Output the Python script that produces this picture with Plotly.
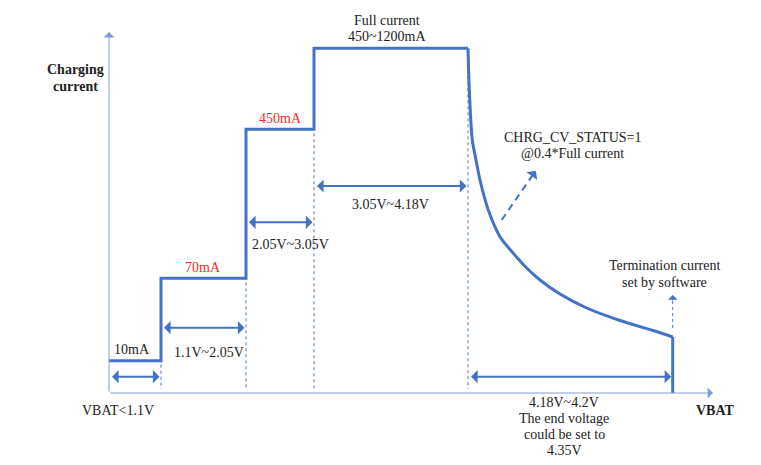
import plotly.graph_objects as go

# ---- schematic data (x: VBAT schematic units, y: current schematic units) ----
stage_bounds = [0, 52, 137, 205, 359]          # VBAT<1.1, 1.1, 2.05, 3.05, 4.18
stage_levels = [32.3, 114.7, 263.7, 344.7]     # 10mA, 70mA, 450mA, Full current
end_x = 563.7                                   # end voltage
cv_x = [359, 360.3, 363.3, 367, 371, 379.3, 391, 404.3, 417.7, 431, 451, 477.7, 511, 544, 563.7]
cv_y = [344.7, 303, 253, 233, 213, 183, 156.3, 139.7, 125, 113, 99, 85, 72.5, 62.5, 56]

level_labels = ["10mA", "70mA", "450mA"]
level_colors = ["#222222", "#FF2A2A", "#FF2A2A"]
range_labels = ["1.1V~2.05V", "2.05V~3.05V", "3.05V~4.18V"]

X_MAX, Y_MAX = 604, 361
BLUE = "#4472C4"
AXIS = "#7C9DD6"
FONT = "Liberation Serif"
TXT = "#222222"

fig = go.Figure()

# step part (constant-current stages)
sx, sy = [], []
for i, lv in enumerate(stage_levels):
    sx += [stage_bounds[i], stage_bounds[i + 1]]
    sy += [lv, lv]
fig.add_trace(go.Scatter(x=sx, y=sy, mode="lines", line=dict(color=BLUE, width=3),
                         hoverinfo="skip", showlegend=False))
# constant-voltage decay
fig.add_trace(go.Scatter(x=cv_x, y=cv_y, mode="lines",
                         line=dict(color=BLUE, width=3, shape="spline", smoothing=0.8),
                         hoverinfo="skip", showlegend=False))
# termination drop
fig.add_trace(go.Scatter(x=[end_x, end_x], y=[cv_y[-1], 0], mode="lines",
                         line=dict(color=BLUE, width=3), hoverinfo="skip", showlegend=False))

# dotted verticals at boundaries
dx, dy = [], []
for i in range(1, len(stage_bounds)):
    top = stage_levels[i - 1] if i < len(stage_bounds) - 1 else stage_levels[-1]
    dx += [stage_bounds[i], stage_bounds[i], None]
    dy += [top - 4, 4, None]
fig.add_trace(go.Scatter(x=dx, y=dy, mode="lines", line=dict(color=BLUE, width=1, dash="dot"),
                         hoverinfo="skip", showlegend=False))

# termination dotted arrow shaft
fig.add_trace(go.Scatter(x=[end_x, end_x], y=[65, 92], mode="lines",
                         line=dict(color=BLUE, width=1, dash="dot"),
                         hoverinfo="skip", showlegend=False))
# dashed CV status arrow shaft
fig.add_trace(go.Scatter(x=[392.7, 422], y=[173, 215.5], mode="lines",
                         line=dict(color=BLUE, width=2, dash="7px,5px"),
                         hoverinfo="skip", showlegend=False))

ann = []

def arrow(x0, y0, x1, y1, both=True, width=2, size=1.1, color=BLUE):
    ann.append(dict(x=x1, y=y1, ax=x0, ay=y0, xref="x", yref="y", axref="x", ayref="y",
                    text="", showarrow=True, arrowhead=1, arrowsize=size, arrowwidth=width,
                    arrowcolor=color, arrowside="end+start" if both else "end",
                    startarrowhead=1, startarrowsize=size, standoff=0, startstandoff=0))

# axes
arrow(0, 0, 0, Y_MAX, both=False, width=1, size=1.8, color=AXIS)
arrow(0, 0, X_MAX, 0, both=False, width=1, size=1.8, color=AXIS)

# double arrows for each range
arrow_ys = [16.3, 65.3, 170.7, 207]
for i in range(4):
    arrow(stage_bounds[i] + 1.5, arrow_ys[i], stage_bounds[i + 1] - 1.5, arrow_ys[i])
arrow(stage_bounds[-1] + 1.5, 16.3, end_x - 1.5, 16.3)

# dashed arrow head
ann.append(dict(x=426.7, y=222.3, ax=-7, ay=10, xref="x", yref="y", text="", showarrow=True,
                arrowhead=1, arrowsize=1.1, arrowwidth=2, arrowcolor=BLUE, standoff=0))
# termination arrow head
ann.append(dict(x=end_x, y=98, ax=0, ay=7, xref="x", yref="y", text="", showarrow=True,
                arrowhead=1, arrowsize=1.6, arrowwidth=1, arrowcolor=BLUE, standoff=0))

def label(t, x, y, color=TXT, bold=False):
    ann.append(dict(x=x, y=y, xref="x", yref="y", text=f"<b>{t}</b>" if bold else t,
                    showarrow=False, xanchor="center", yanchor="middle",
                    font=dict(family=FONT, size=14, color=color)))

label("Charging", -34, 324, bold=True)
label("current", -34, 307, bold=True)
label(level_labels[0], 23, 44, level_colors[0])
label(level_labels[1], 94, 126, level_colors[1])
label(level_labels[2], 171, 275, level_colors[2])
label("Full current", 278, 373)
label("450~1200mA", 278, 357)
label(range_labels[0], 100, 40.3)
label(range_labels[1], 181, 149)
label(range_labels[2], 281, 189)
label("VBAT&lt;1.1V", 9, -17)
label("CHRG_CV_STATUS=1", 463, 256)
label("@0.4*Full current", 463, 240)
label("Termination current", 555, 128)
label("set by software", 555, 111)
label("4.18V~4.2V", 455, -9)
label("The end voltage", 455, -25)
label("could be set to", 455, -41)
label("4.35V", 455, -57.7)
label("VBAT", 606, -17, bold=True)

# full-canvas axes; the page body adds an 8px offset, so the figure is 753x457
# and page pixel x = x + 109, page pixel y = 393 - y
fig.update_layout(
    width=753, height=457,
    margin=dict(l=0, r=0, t=0, b=0, pad=0, autoexpand=False),
    paper_bgcolor="white", plot_bgcolor="white",
    xaxis=dict(range=[-101, 652], visible=False, fixedrange=True),
    yaxis=dict(range=[-72, 385], visible=False, fixedrange=True),
    annotations=ann, showlegend=False,
)
fig.write_html("out.html")
